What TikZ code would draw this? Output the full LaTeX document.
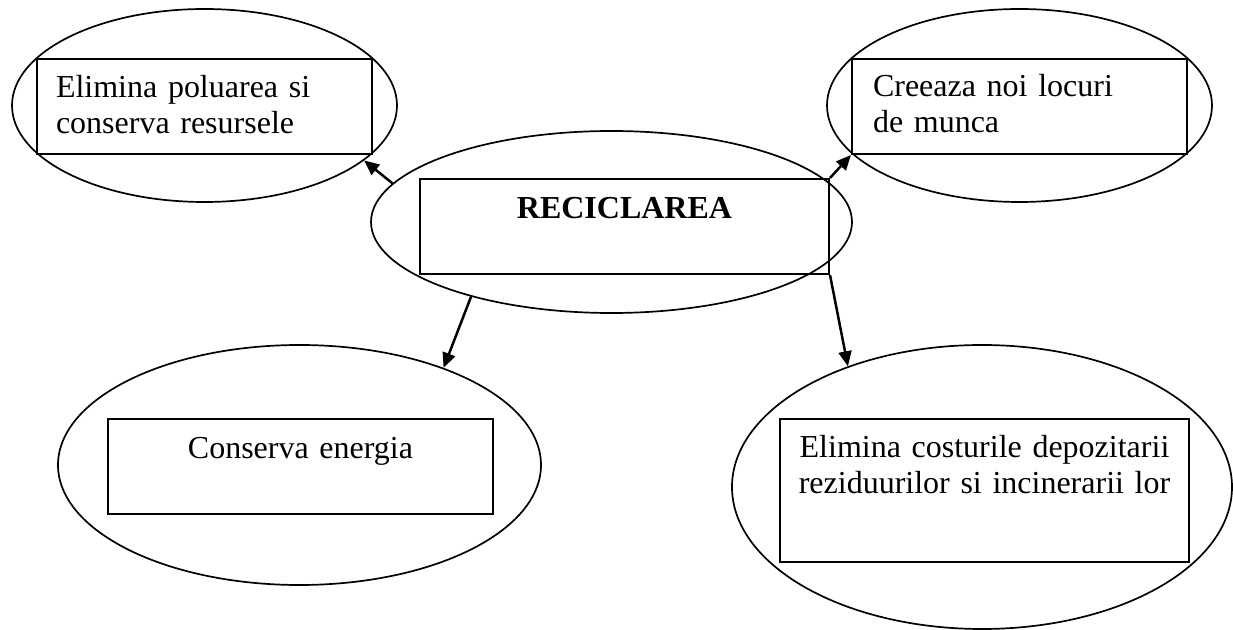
\documentclass[tikz,border=0pt]{standalone}
\usepackage{fontspec}
\setmainfont{Liberation Serif}
\usetikzlibrary{shapes.geometric, arrows.meta}

\tikzstyle{oval} = [ellipse, draw=black, line width=0.85pt, inner sep=0pt]
\tikzstyle{box} = [rectangle, draw=black, line width=1pt, inner ysep=0pt, anchor=north west, font=\fontsize{16}{18}\selectfont]
\tikzstyle{link} = [line width=1.25pt, black, ->, >={Triangle[length=7.5pt, width=6.5pt]}]

\begin{document}
\begin{tikzpicture}[x=0.5pt, y=-0.5pt]

    \useasboundingbox (0, 0) rectangle (1233, 630);

    % ovals
    \node (recy_oval) [oval, minimum width=240.5pt, minimum height=91pt] at (611.5, 222) {};
    \node (poll_oval) [oval, minimum width=192.5pt, minimum height=96.5pt] at (204.5, 105.5) {};
    \node (jobs_oval) [oval, minimum width=192.5pt, minimum height=96.5pt] at (1019.5, 105.5) {};
    \node (energy_oval) [oval, minimum width=241.5pt, minimum height=120pt] at (299.5, 465) {};
    \node (cost_oval) [oval, minimum width=250pt, minimum height=142pt] at (982, 487) {};

    % text boxes
    \node (recy_box) [box, align=center, inner xsep=5pt, text width=194.5pt, text height=20pt, text depth=27.5pt] at (419, 178) {\textbf{RECICLAREA}};
    \node (poll_box) [box, align=left, inner xsep=9.5pt, text width=148.5pt, text height=19.5pt, text depth=28pt] at (36, 58) {Elimina poluarea si\\conserva resursele};
    \node (jobs_box) [box, align=left, inner xsep=10.5pt, text width=146.5pt, text height=19pt, text depth=28.5pt] at (851, 58) {Creeaza noi locuri\\de munca};
    \node (energy_box) [box, align=center, inner xsep=5pt, text width=182.5pt, text height=20pt, text depth=27.5pt] at (107, 418) {Conserva energia};
    \node (cost_box) [box, align=center, inner xsep=5pt, text width=194.5pt, text height=19.5pt, text depth=52pt] at (779, 418) {Elimina costurile depozitarii\\reziduurilor si incinerarii lor};

    % arrows
    \draw [link] (recy_oval.170.5) -- (poll_oval.341);
    \draw [link] (recy_box.north east) -- (jobs_box.south west);
    \draw [link] (recy_oval.208) -- (energy_oval.34);
    \draw [link] (recy_box.south east) -- (cost_oval.138);

\end{tikzpicture}
\end{document}
